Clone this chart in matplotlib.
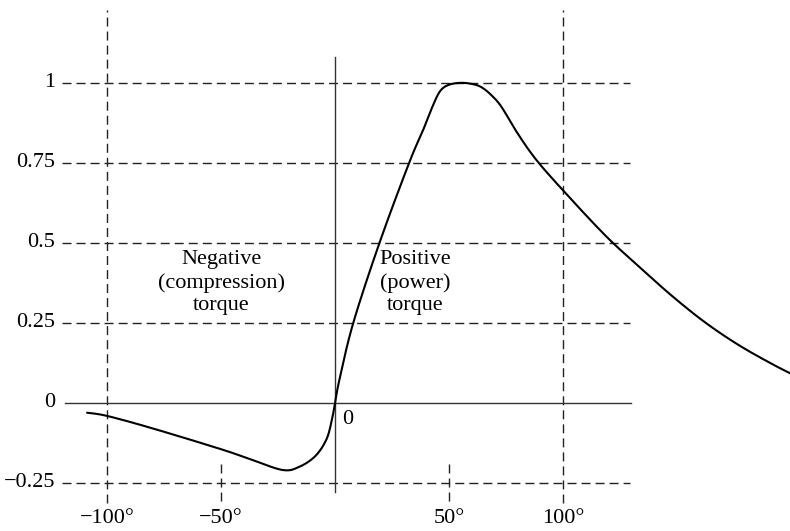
import numpy as np
import matplotlib
matplotlib.use('Agg')
import matplotlib.pyplot as plt

# crank angle (deg) and normalised torque
angle = [-108.8, -100, -80.5, -50, -36.9, -23.0, -15.7, -8.6, -3.7, -1.3, 0.0,
         2.0, 8.0, 19.5, 32.5, 38.5, 43.0, 46.2, 50.0, 55.5, 61.0, 64.5, 68.5,
         73.0, 80.0, 88.2, 100.4, 118.7, 133.3, 148.0, 162.6, 177.2, 191.8, 202.0]
torque = [-0.031, -0.041, -0.079, -0.145, -0.177, -0.210, -0.200, -0.166, -0.113, -0.050, 0.0,
          0.075, 0.25, 0.5, 0.75, 0.85, 0.93, 0.975, 0.994, 1.0, 0.995, 0.985, 0.962,
          0.925, 0.843, 0.76, 0.661, 0.522, 0.426, 0.333, 0.25, 0.180, 0.121, 0.084]

y_grid = [1, 0.75, 0.5, 0.25, -0.25]
y_labels = ['1', '0.75', '0.5', '0.25', '0', '\u22120.25']
y_label_vals = [1, 0.75, 0.5, 0.25, 0, -0.25]
x_long = [-100, 100]
x_short = [-50, 50]
x_labels = ['\u2212100\u00b0', '\u221250\u00b0', '50\u00b0', '100\u00b0']
x_label_vals = [-100, -50, 50, 100]


# Catmull-Rom pass through the read points so the curve is drawn smooth
def smooth(x, y, n=12):
    p = np.c_[x, y]
    p = np.vstack([p[0], p, p[-1]])
    out = []
    t = np.linspace(0, 1, n, endpoint=False)[:, None]
    for i in range(1, len(p) - 2):
        p0, p1, p2, p3 = p[i - 1], p[i], p[i + 1], p[i + 2]
        seg = 0.5 * ((2 * p1) + (-p0 + p2) * t + (2 * p0 - 5 * p1 + 4 * p2 - p3) * t ** 2
                     + (-p0 + 3 * p1 - 3 * p2 + p3) * t ** 3)
        out.append(seg)
    out.append(p[-2][None, :])
    out = np.vstack(out)
    return out[:, 0], out[:, 1]


plt.rcParams['font.family'] = ['Liberation Serif', 'DejaVu Serif']
fs = 16

fig = plt.figure(figsize=(7.9, 5.31), dpi=100)
ax = fig.add_axes([0, 0, 1, 1])
ax.set_xlim(-147.0, 199.6)
ax.set_ylim(-0.4006, 1.2588)
ax.axis('off')

dash = dict(color='#222222', lw=1.0, linestyle=(0, (6.5, 3.6)))

# dashed reference lines
for v in y_grid:
    ax.plot([-119.8, 129.4], [v, v], **dash)
for v in x_long:
    ax.plot([v, v], [-0.313, 1.227], **dash)
for v in x_short:
    ax.plot([v, v], [-0.19, -0.322], **dash)

# solid axes
ax.plot([-118.5, 129.9], [0, 0], color='#333333', lw=1.0)
ax.plot([0, 0], [-0.28, 1.08], color='#333333', lw=1.0)

# torque curve
sx, sy = smooth(angle, torque)
ax.plot(sx, sy, color='black', lw=1.5, solid_capstyle='round')

# tick labels
for v, s in zip(y_label_vals, y_labels):
    ax.text(-122.9, v, s, ha='right', va='center', fontsize=fs)
for v, s in zip(x_label_vals, x_labels):
    ax.text(v, -0.36, s, ha='center', va='center', fontsize=fs)
ax.annotate('0', (0, 0), xytext=(9, -12), textcoords='offset points',
            ha='center', va='center', fontsize=fs)

ax.text(-50, 0.375, 'Negative\n(compression)\ntorque', ha='center', va='center',
        fontsize=fs, linespacing=1.25)
ax.text(35, 0.375, 'Positive\n(power)\ntorque', ha='center', va='center',
        fontsize=fs, linespacing=1.25)

fig.savefig('out.png', dpi=100)
